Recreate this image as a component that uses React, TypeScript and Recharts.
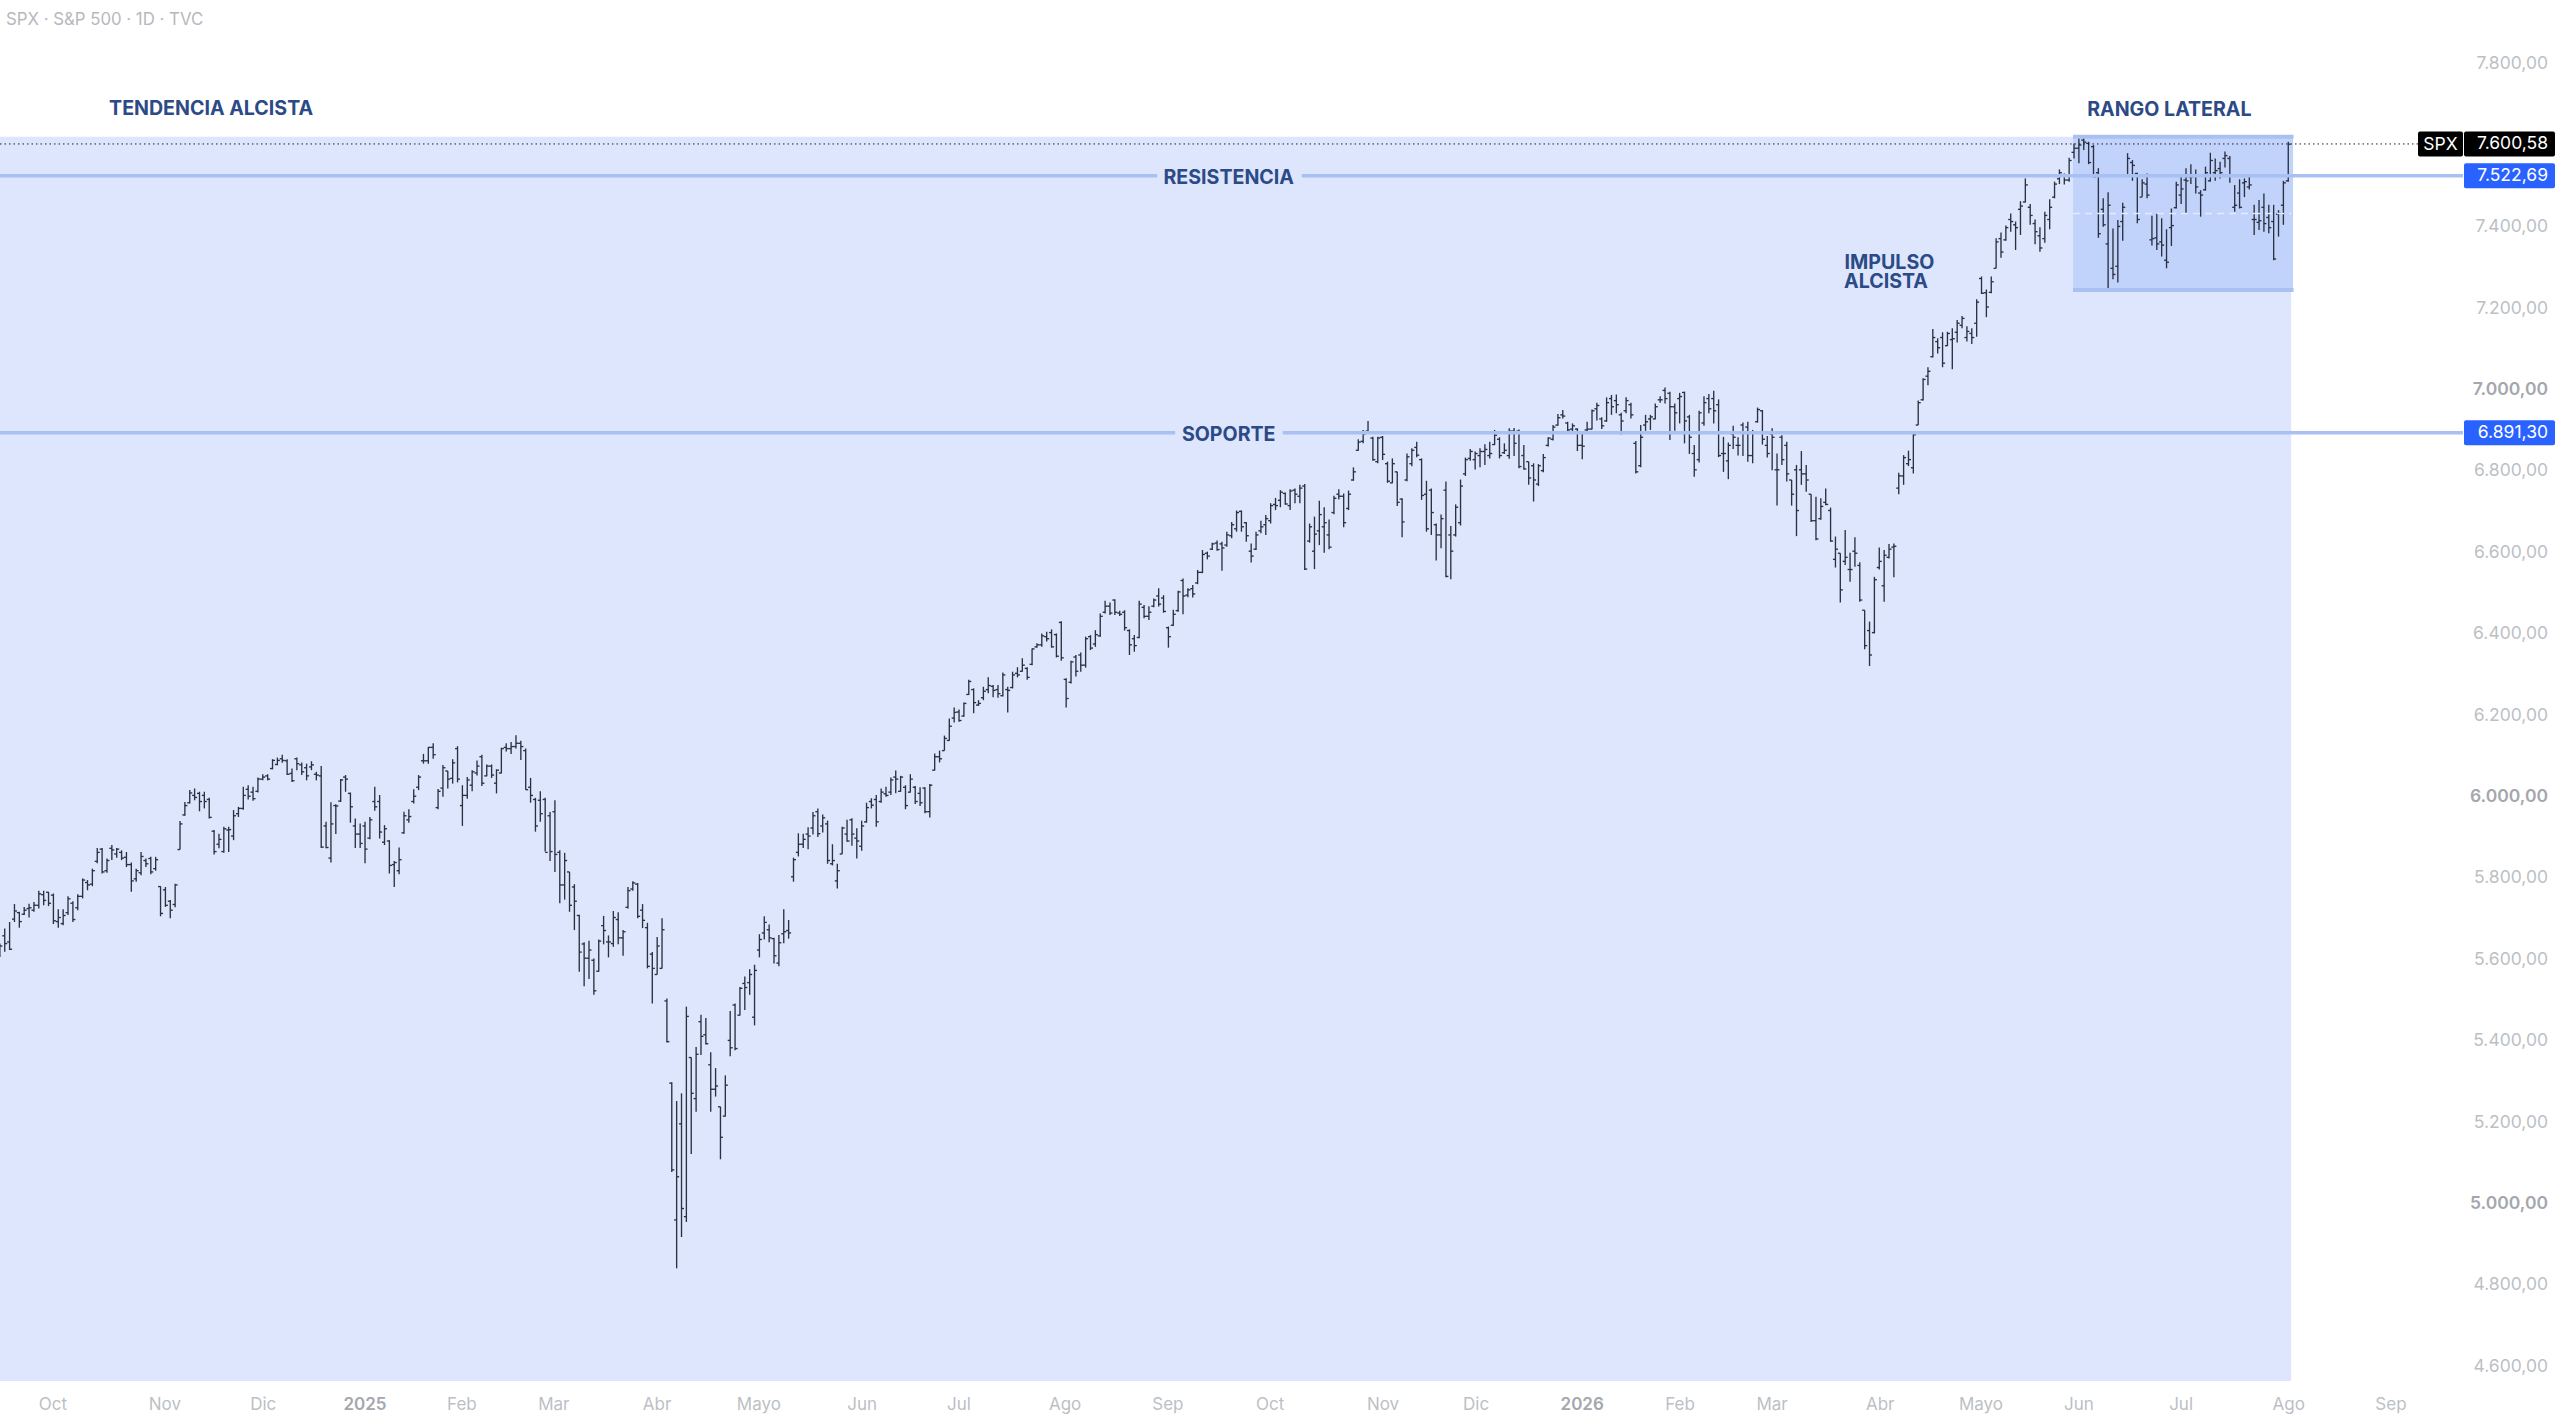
import { ComposedChart, Bar, XAxis, YAxis, ReferenceArea, ReferenceLine, ReferenceDot } from 'recharts';

// [high, low, open, close] for each session
const barsSepDic24 = [
  [5636,5603,5606,5630],[5673,5616,5655,5636],[5689,5620,5640,5622],[5733,5689,5696,5716],[5714,5675,5712,5690],
  [5726,5706,5708,5718],[5734,5700,5722,5724],[5738,5714,5718,5730],[5766,5722,5730,5758],[5766,5730,5756,5742],
  [5763,5728,5762,5735],[5759,5684,5755,5692],[5720,5675,5690,5700],[5720,5681,5685,5705],[5752,5706,5712,5746],
  [5740,5689,5735,5695],[5757,5718,5724,5752],[5796,5747,5752,5792],[5792,5767,5786,5780],[5820,5777,5782,5815],
  [5871,5833,5838,5860],[5871,5808,5868,5812],[5845,5810,5815,5840],[5878,5841,5870,5866],[5871,5847,5856,5868],
  [5865,5841,5860,5846],[5861,5824,5848,5830],[5835,5763,5830,5790],[5820,5788,5795,5815],[5861,5804,5810,5850],
  [5845,5824,5840,5832],[5849,5806,5845,5812],[5849,5815,5820,5842],[5777,5703,5776,5710],[5775,5726,5768,5730],
  [5743,5698,5740,5718],[5783,5725,5732,5780],[5937,5867,5867,5930],[5984,5950,5952,5975],[6013,5980,5982,6006],
  [6017,5988,6000,5995],[6009,5961,6005,5985],[6009,5968,6000,5985],[5994,5943,5990,5946],[5915,5855,5912,5862],
  [5906,5870,5880,5892],[5923,5859,5862,5918],[5923,5861,5915,5916],[5964,5890,5900,5950],[5972,5947,5955,5968],
  [6021,5965,5968,6000],[6025,5990,6015,5998],[6021,5987,6008,5992],[6044,6007,6010,6040],[6052,6037,6040,6045],
  [6052,6037,6048,6040],[6089,6064,6066,6086],[6093,6074,6076,6086],[6100,6080,6090,6086],[6089,6050,6085,6052],
  [6066,6033,6054,6036],[6093,6062,6090,6078],[6081,6050,6075,6058],[6078,6037,6068,6048],[6084,6062,6070,6075],
  [6058,6037,6052,6050],[6072,5871,6048,5873],[5935,5870,5925,5872],[5983,5835,5846,5930],[5978,5905,5975,5974],
  [6040,5984,5986,6038],[6050,6009,6045,6040],[6007,5933,6005,5972],[5943,5871,5925,5905],[5931,5871,5905,5882],
];
const barsEne25 = [
  [5935,5833,5925,5868],[5947,5892,5895,5940],[6021,5962,5985,5972],[6001,5894,5985,5910],[5927,5878,5885,5918],
  [5890,5808,5888,5828],[5839,5775,5830,5835],[5872,5806,5815,5842],[5960,5906,5908,5950],[5966,5933,5940,5948],
  [6015,5980,5985,5998],[6050,6013,6020,6045],[6102,6078,6085,6085],[6119,6078,6085,6118],[6128,6090,6118,6100],
];
const barsFebAbr25 = [
  [6016,5966,5970,6010],[6075,5997,6018,6068],[6060,6017,6060,6040],[6089,6029,6042,6080],[6121,6032,6115,6040],
  [6025,5925,5975,6000],[6045,5992,6000,6038],[6062,6010,6025,6058],[6086,6049,6055,6072],[6100,6023,6095,6030],
  [6076,6047,6048,6072],[6076,6043,6072,6050],[6064,6005,6030,6062],[6117,6054,6055,6115],[6128,6108,6118,6115],
  [6131,6102,6115,6120],[6148,6115,6120,6128],[6134,6087,6128,6120],[6115,6014,6110,6014],[6043,5982,6020,6000],
  [5994,5911,5990,5925],[6010,5935,5988,5955],[5994,5862,5990,5860],[5959,5839,5950,5862],[5988,5812,5960,5855],
  [5865,5735,5860,5780],[5859,5744,5780,5840],[5812,5714,5812,5730],[5782,5669,5775,5740],[5707,5567,5705,5615],
  [5639,5531,5635,5600],[5643,5549,5600,5620],[5599,5510,5595,5520],[5646,5567,5568,5642],[5704,5634,5680,5668],
  [5656,5602,5640,5640],[5716,5628,5636,5700],[5713,5634,5695,5650],[5669,5606,5650,5665],[5775,5722,5725,5766],
  [5789,5766,5770,5785],[5785,5698,5782,5703],[5733,5674,5718,5693],[5687,5575,5675,5580],[5615,5489,5610,5575],
  [5652,5560,5560,5630],[5698,5575,5575,5670],[5501,5393,5495,5395],[5295,5075,5293,5080],[5249,4838,4957,5063],
  [5268,4915,5193,4985],[5481,4952,4965,5457],[5356,5119,5356,5268],[5382,5223,5255,5364],[5461,5362,5444,5408],
  [5453,5388,5412,5390],[5369,5223,5338,5278],[5330,5260,5278,5286],[5235,5106,5235,5160],[5312,5211,5212,5288],
];
const barsAbrJun25 = [
  [5470,5359,5398,5380],[5489,5374,5485,5378],[5529,5459,5460,5526],[5555,5473,5538,5528],[5573,5510,5540,5560],
  [5584,5435,5455,5570],[5659,5602,5620,5646],[5703,5646,5662,5688],[5683,5639,5670,5650],[5650,5587,5648,5606],
  [5657,5580,5588,5638],[5720,5637,5660,5665],[5694,5648,5668,5662],[5847,5788,5800,5842],[5907,5850,5860,5880],
  [5906,5871,5880,5892],[5922,5868,5905,5900],[5959,5904,5920,5950],[5968,5898,5960,5906],[5953,5909,5925,5945],
  [5938,5832,5930,5840],[5880,5828,5832,5840],[5832,5771,5790,5815],[5923,5856,5856,5920],[5940,5886,5905,5888],
  [5944,5876,5940,5905],[5919,5845,5895,5888],[5938,5864,5875,5925],[5982,5933,5935,5970],[5993,5968,5985,5976],
  [6001,5923,5990,5935],[6017,5982,5985,6008],[6021,5997,6004,6000],[6044,6001,6008,6038],[6061,6005,6045,6040],
  [6048,6009,6010,6045],[6025,5966,6020,5975],[6052,6007,6008,6040],[6023,5979,6020,5985],[6020,5974,6005,5982],
  [6020,5956,6018,5960],[6028,5946,5960,6025],[6103,6061,6062,6095],[6110,6081,6095,6090],[6147,6110,6110,6140],
  [6189,6134,6135,6170],[6216,6179,6190,6204],[6211,6181,6205,6184],[6228,6193,6195,6226],[6284,6247,6248,6280],
];
const barsJulSep25 = [
  [6263,6202,6260,6228],[6234,6220,6222,6226],[6267,6234,6240,6256],[6290,6251,6260,6270],[6271,6241,6268,6258],
  [6271,6240,6260,6250],[6302,6243,6245,6296],[6267,6204,6260,6258],[6304,6263,6265,6296],[6315,6290,6300,6296],
  [6337,6304,6305,6320],[6315,6284,6312,6290],[6361,6320,6322,6360],[6374,6363,6365,6370],[6398,6365,6370,6392],
  [6402,6378,6390,6385],[6408,6363,6400,6365],[6398,6339,6395,6342],[6428,6331,6425,6338],[6288,6216,6285,6238],
  [6331,6275,6278,6328],[6345,6292,6340,6305],[6351,6304,6345,6320],[6390,6314,6320,6385],[6394,6357,6390,6362],
  [6406,6365,6372,6395],[6447,6390,6392,6440],[6478,6447,6450,6465],[6474,6443,6465,6448],[6482,6443,6480,6450],
  [6454,6441,6448,6445],[6455,6405,6450,6412],[6408,6345,6405,6370],[6394,6353,6385,6368],[6478,6386,6388,6470],
  [6468,6435,6462,6440],[6465,6431,6440,6450],[6484,6462,6465,6480],[6509,6464,6490,6470],[6492,6449,6485,6452],
  [6415,6363,6412,6390],[6456,6416,6418,6445],[6503,6451,6454,6500],[6533,6445,6528,6490],[6509,6487,6492,6505],
  [6517,6486,6508,6495],[6554,6519,6522,6548],[6603,6546,6548,6592],[6599,6580,6595,6588],[6621,6603,6605,6618],
];
const barsSepDic25 = [
  [6626,6601,6620,6604],[6623,6552,6618,6608],[6648,6611,6615,6640],[6672,6632,6638,6665],[6700,6648,6655,6695],
  [6700,6648,6698,6660],[6672,6623,6670,6638],[6619,6572,6600,6588],[6648,6603,6605,6640],[6675,6644,6650,6660],
  [6689,6640,6665,6680],[6718,6668,6675,6712],[6731,6701,6715,6712],[6750,6708,6725,6745],[6744,6714,6742,6716],
  [6752,6701,6712,6748],[6754,6718,6750,6740],[6763,6718,6735,6755],[6765,6554,6760,6556],[6668,6621,6625,6660],
  [6685,6556,6600,6642],[6724,6615,6650,6690],[6708,6596,6660,6670],[6678,6605,6640,6610],[6736,6691,6695,6730],
  [6752,6727,6740,6735],[6742,6659,6735,6670],[6749,6701,6705,6740],[6806,6773,6775,6795],[6875,6847,6848,6868],
  [6898,6865,6870,6888],[6920,6890,6895,6892],[6881,6822,6878,6825],[6881,6816,6820,6878],[6883,6824,6880,6838],
  [6820,6768,6815,6772],[6828,6767,6768,6815],[6795,6711,6795,6720],[6730,6634,6728,6672],[6840,6772,6775,6832],
  [6853,6809,6815,6848],[6869,6831,6855,6836],[6828,6726,6825,6737],[6773,6648,6740,6655],[6754,6640,6750,6695],
  [6668,6577,6665,6640],[6690,6607,6640,6680],[6771,6536,6750,6538],[6662,6531,6640,6600],[6715,6636,6640,6708],
  [6776,6663,6670,6760],[6830,6785,6790,6825],[6851,6822,6828,6845],[6845,6801,6825,6840],[6853,6806,6835,6845],
  [6863,6812,6845,6850],[6869,6828,6835,6840],[6898,6861,6862,6885],[6880,6828,6875,6835],[6865,6839,6842,6848],
  [6902,6827,6835,6895],[6903,6834,6895,6865],[6899,6804,6895,6808],[6861,6801,6835,6802],[6820,6763,6820,6780],
  [6816,6722,6810,6775],[6814,6760,6765,6810],[6839,6794,6798,6830],[6880,6857,6860,6878],[6910,6872,6875,6905],
  [6937,6908,6910,6928],[6947,6926,6935,6932],[6918,6889,6915,6898],[6914,6894,6900,6908],[6902,6846,6900,6860],
  [6894,6826,6860,6858],
];
const barsEneMar26 = [
  [6918,6894,6898,6900],[6948,6899,6900,6945],[6965,6921,6950,6958],[6929,6900,6925,6908],[6978,6918,6920,6965],
  [6984,6935,6975,6955],[6985,6939,6970,6960],[6940,6887,6935,6920],[6978,6939,6945,6970],[6965,6926,6960,6935],
  [6871,6791,6865,6795],[6910,6806,6810,6880],[6935,6896,6910,6918],[6935,6898,6925,6930],[6963,6924,6925,6955],
  [6981,6965,6972,6972],[7002,6963,6995,6975],[6992,6873,6988,6955],[6963,6896,6955,6940],[6989,6914,6975,6980],
  [6992,6865,6990,6920],[6935,6839,6930,6880],[6861,6783,6840,6800],[6945,6818,6825,6940],[6981,6908,6915,6965],
  [6986,6939,6975,6950],[6994,6914,6975,6945],[6973,6831,6960,6835],[6881,6795,6840,6840],[6867,6777,6822,6860],
  [6908,6851,6888,6880],[6880,6835,6860,6860],[6916,6834,6910,6890],[6918,6820,6905,6835],[6898,6816,6835,6890],
  [6953,6916,6918,6948],[6947,6862,6945,6875],[6883,6830,6860,6840],[6902,6799,6888,6880],[6840,6712,6800,6800],
  [6885,6812,6880,6825],[6869,6771,6860,6790],[6775,6712,6775,6740],[6812,6637,6800,6700],[6846,6763,6800,6790],
  [6812,6746,6790,6775],[6740,6672,6740,6675],[6734,6627,6675,6630],[6730,6677,6680,6710],[6754,6713,6720,6715],
  [6707,6623,6700,6625],[6636,6560,6580,6605],[6595,6474,6595,6505],[6652,6566,6575,6585],[6596,6525,6555,6555],
];
const barsMarMay26 = [
  [6634,6562,6600,6595],[6573,6476,6565,6480],[6455,6359,6455,6368],[6427,6318,6405,6345],[6537,6398,6400,6530],
  [6609,6555,6560,6575],[6603,6476,6515,6590],[6618,6582,6585,6605],[6619,6536,6610,6612],[6793,6740,6755,6785],
  [6836,6763,6785,6830],[6847,6809,6815,6825],[6888,6791,6805,6886],[6970,6910,6910,6965],[7025,6970,6972,7022],
  [7052,7008,7030,7042],[7146,7076,7078,7125],[7123,7086,7115,7100],[7138,7052,7125,7062],[7139,7104,7105,7135],
  [7148,7047,7120,7122],[7168,7113,7138,7160],[7178,7148,7155,7172],[7153,7115,7125,7140],[7148,7109,7135,7125],
  [7219,7127,7160,7212],[7275,7232,7270,7234],[7243,7175,7235,7200],[7275,7234,7236,7262],[7369,7295,7295,7360],
  [7383,7321,7368,7335],[7400,7363,7365,7395],[7430,7385,7415,7410],[7410,7340,7402,7395],[7460,7377,7440,7448],
  [7516,7457,7458,7500],[7453,7402,7445,7425],[7415,7354,7405,7385],[7396,7336,7375,7345],[7434,7358,7368,7425],
  [7465,7391,7415,7445],[7508,7467,7470,7502],[7538,7502,7515,7530],[7528,7501,7522,7512],[7567,7508,7512,7560],
];
const barsJunAgo26 = [
  [7602,7565,7580,7590],[7620,7553,7590,7598],[7620,7586,7610,7605],[7606,7551,7602,7555],[7598,7519,7594,7520],
  [7541,7370,7530,7380],[7467,7397,7440,7402],[7482,7239,7355,7450],[7393,7268,7295,7280],[7414,7260,7300,7398],
  [7456,7363,7410,7445],[7578,7520,7522,7565],[7561,7510,7555,7548],[7530,7406,7528,7415],[7514,7471,7470,7505],
  [7528,7467,7502,7475],[7424,7351,7365,7368],[7429,7340,7370,7355],[7418,7324,7360,7352],[7391,7295,7315,7310],
  [7442,7350,7395,7400],[7508,7442,7444,7500],[7520,7453,7475,7490],[7541,7430,7512,7510],[7551,7502,7520,7520],
  [7538,7479,7525,7495],[7487,7422,7480,7475],[7545,7486,7488,7530],[7579,7508,7510,7560],[7565,7510,7530,7535],
  [7557,7516,7540,7530],[7582,7543,7565,7572],[7571,7505,7565,7525],[7500,7434,7445,7450],[7514,7442,7480,7445],
  [7516,7470,7505,7508],[7524,7489,7495,7500],[7451,7377,7415,7415],[7463,7389,7408,7412],[7479,7385,7445,7405],
  [7451,7381,7420,7395],[7451,7315,7410,7318],[7438,7373,7428,7430],[7510,7402,7450,7505],[7606,7508,7510,7600],
];

const monthTicks = [10.8, 33.8, 54, 74.9, 94.8, 113.7, 134.9, 155.8, 177, 196.9, 218.7, 239.8, 260.8, 284, 303.1, 324.9, 345, 363.9, 386.1, 406.8, 426.9, 447.9, 470, 491];
const monthLabels = ['Oct', 'Nov', 'Dic', '2025', 'Feb', 'Mar', 'Abr', 'Mayo', 'Jun', 'Jul', 'Ago', 'Sep', 'Oct', 'Nov', 'Dic', '2026', 'Feb', 'Mar', 'Abr', 'Mayo', 'Jun', 'Jul', 'Ago', 'Sep'];
const priceTicks = [7800, 7400, 7200, 7000, 6800, 6600, 6400, 6200, 6000, 5800, 5600, 5400, 5200, 5000, 4800, 4600];
const boldPrices = [7000, 6000, 5000];
const yearLabels = ['2025', '2026'];

const lastPrice = 7600.58;
const resistance = 7522.69;
const support = 6891.3;
const rangeTop = 7618;
const rangeBottom = 7242;
const rangeMid = 7430;
const tagPrices = [lastPrice, resistance, support];

const allBars = [
  ...barsSepDic24, ...barsEne25, ...barsFebAbr25, ...barsAbrJun25, ...barsJulSep25,
  ...barsSepDic25, ...barsEneMar26, ...barsMarMay26, ...barsJunAgo26,
];
const data = allBars.map(([high, low, open, close], i) => ({ i, high, low, open, close }));

const formatPrice = (v: number) =>
  v.toLocaleString('de-DE', { minimumFractionDigits: 2, maximumFractionDigits: 2 });

const FONT = 'Inter, sans-serif';
const NAVY = '#2c4a85';
const LINE = '#a9c0f3';

function OhlcBar(props: any) {
  const { x, width, y, height, payload } = props;
  const { high, low, open, close } = payload;
  const cx = x + width / 2;
  const toY = (v: number) => y + ((high - v) / (high - low)) * height;
  return (
    <g stroke="#2a3140" strokeWidth={1.35}>
      <line x1={cx} x2={cx} y1={y} y2={y + height} />
      <line x1={cx - 2.5} x2={cx} y1={toY(open)} y2={toY(open)} />
      <line x1={cx} x2={cx + 2.5} y1={toY(close)} y2={toY(close)} />
    </g>
  );
}

function PriceTick(props: any) {
  const { y, payload } = props;
  const v = payload.value;
  if (tagPrices.includes(v)) {
    const isLast = v === lastPrice;
    return (
      <g fontFamily={FONT} fontSize={17.5}>
        {isLast && (
          <>
            <rect x={2418} y={y - 12.5} width={45} height={25} rx={2} fill="#000" />
            <text x={2440.5} y={y} fill="#fff" textAnchor="middle" dominantBaseline="central">SPX</text>
          </>
        )}
        <rect x={2464} y={y - 12.5} width={91} height={25} rx={2} fill={isLast ? '#000' : '#2962ff'} />
        <text x={2548} y={y - 1} fill="#fff" textAnchor="end" dominantBaseline="central">{formatPrice(v)}</text>
      </g>
    );
  }
  return (
    <text x={2548} y={y} fill={boldPrices.includes(v) ? '#a4a7ae' : '#bcbfc5'} fontWeight={boldPrices.includes(v) ? 600 : 400} fontFamily={FONT} fontSize={17.5} textAnchor="end" dominantBaseline="central">
      {formatPrice(v)}
    </text>
  );
}

function MonthTick(props: any) {
  const { x, y, payload } = props;
  const label = monthLabels[monthTicks.indexOf(payload.value)];
  const isYear = yearLabels.includes(label);
  return (
    <text x={x} y={y + 17} fill={isYear ? '#a4a7ae' : '#bcbfc5'} fontWeight={isYear ? 600 : 400} fontFamily={FONT} fontSize={17} textAnchor="middle" dominantBaseline="central">
      {label}
    </text>
  );
}

function Note({ x, y, text }: { x: number; y: number; text: string }) {
  return (
    <ReferenceDot
      x={x}
      y={y}
      r={0}
      fill="none"
      stroke="none"
      ifOverflow="visible"
      label={{ value: text, position: 'center', fill: NAVY, fontSize: 19.6, fontWeight: 700, fontFamily: FONT }}
    />
  );
}

export default function App() {
  return (
    <div style={{ position: 'absolute', left: 0, top: 0, width: 2560, height: 1415, background: '#fff', overflow: 'hidden' }}>
      <div style={{ position: 'absolute', left: 6, top: 9, fontFamily: FONT, fontSize: 16.8, color: '#b6b8bd', zIndex: 2 }}>
        SPX · S&amp;P 500 · 1D · TVC
      </div>
      <ComposedChart width={2560} height={1415} data={data} margin={{ top: 0, right: 0, bottom: 0, left: 0 }}>
        <XAxis
          dataKey="i"
          type="number"
          domain={[-0.06, 505.8]}
          allowDataOverflow
          ticks={monthTicks}
          interval={0}
          height={34}
          axisLine={false}
          tickLine={false}
          tickMargin={0}
          tick={<MonthTick />}
        />
        <YAxis
          orientation="right"
          width={97}
          domain={[4561.2, 7954.3]}
          allowDataOverflow
          ticks={[...priceTicks, ...tagPrices]}
          interval={0}
          axisLine={false}
          tickLine={false}
          tick={<PriceTick />}
        />
        <ReferenceArea x1={-0.06} x2={470.5} y1={4561.2} y2={rangeTop} fill="#dde6fd" fillOpacity={1} stroke="none" />
        <ReferenceArea x1={425.7} x2={470.9} y1={rangeBottom} y2={rangeTop} fill="#c1d2fb" fillOpacity={1} stroke="none" />
        <ReferenceLine segment={[{ x: 425.7, y: rangeTop }, { x: 471, y: rangeTop }]} stroke={LINE} strokeWidth={4} />
        <ReferenceLine segment={[{ x: 425.7, y: rangeBottom }, { x: 471, y: rangeBottom }]} stroke={LINE} strokeWidth={4} />
        <ReferenceLine segment={[{ x: 425.7, y: rangeMid }, { x: 470.5, y: rangeMid }]} stroke="#e4ebfd" strokeWidth={1.5} strokeDasharray="7 5" />
        <ReferenceLine segment={[{ x: -0.06, y: resistance }, { x: 237.6, y: resistance }]} stroke={LINE} strokeWidth={3.5} />
        <ReferenceLine segment={[{ x: 267.3, y: resistance }, { x: 505.8, y: resistance }]} stroke={LINE} strokeWidth={3.5} />
        <ReferenceLine segment={[{ x: -0.06, y: support }, { x: 241.3, y: support }]} stroke={LINE} strokeWidth={3.5} />
        <ReferenceLine segment={[{ x: 263.4, y: support }, { x: 505.8, y: support }]} stroke={LINE} strokeWidth={3.5} />
        <ReferenceLine segment={[{ x: -0.06, y: lastPrice }, { x: 496.6, y: lastPrice }]} stroke="#1c1f27" strokeWidth={1} strokeDasharray="1.5 3" />
        <Bar dataKey={(d: any) => [d.low, d.high]} barSize={2} shape={<OhlcBar />} isAnimationActive={false} />
        <Note x={43.3} y={7688} text="TENDENCIA ALCISTA" />
        <Note x={252.3} y={7520} text="RESISTENCIA" />
        <Note x={252.3} y={6888} text="SOPORTE" />
        <Note x={445.5} y={7686} text="RANGO LATERAL" />
        <Note x={388} y={7310} text="IMPULSO" />
        <Note x={387.3} y={7263} text="ALCISTA" />
      </ComposedChart>
    </div>
  );
}
